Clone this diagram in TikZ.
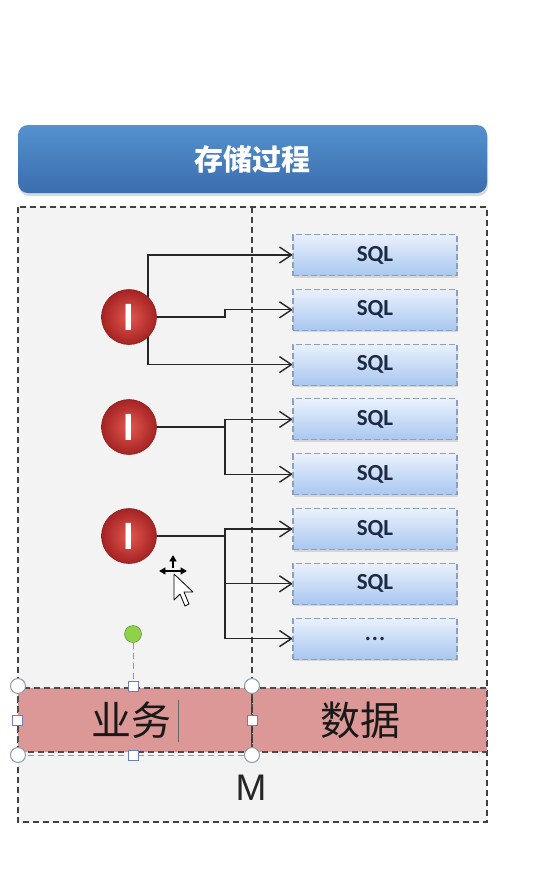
\documentclass[tikz,border=0pt]{standalone}
\usepackage{fontspec}
\newfontfamily\cjk{Noto Sans CJK SC}
\newfontfamily\sqlfont{Carlito}
\newfontfamily\mfont{Liberation Sans}
\usetikzlibrary{shadows,arrows.meta}
\pgfdeclarelayer{back}\pgfdeclarelayer{lines}\pgfsetlayers{back,lines,main}
\definecolor{titletop}{HTML}{5591CF}
\definecolor{titlebot}{HTML}{3A6DAD}
\definecolor{panel}{HTML}{F3F3F3}
\definecolor{pinkband}{HTML}{DB9896}
\definecolor{sqltop}{HTML}{EAF1FC}
\definecolor{sqlbot}{HTML}{A9C7F0}
\definecolor{sqlborder}{HTML}{8AA0BE}
\definecolor{redin}{HTML}{E2574E}
\definecolor{redout}{HTML}{A52323}
\definecolor{sqltext}{HTML}{1C2A45}
\definecolor{handle}{HTML}{8A9BB0}
\definecolor{greenh}{HTML}{8ED24A}
\tikzset{
  panelbox/.style={draw=black!75, fill=panel, line width=1.2pt, dash pattern=on 6pt off 4pt},
  titlebar/.style={rounded corners=10pt, top color=titletop, bottom color=titlebot, minimum width=469pt, minimum height=68pt, text=white, font=\cjk\bfseries\fontsize{29}{29}\selectfont, drop shadow={opacity=0.3, shadow xshift=1pt, shadow yshift=-3pt}},
  sqlbox/.style={draw=sqlborder, dash pattern=on 6pt off 3pt, line width=1.1pt, top color=sqltop, bottom color=sqlbot, minimum width=164pt, minimum height=41pt, inner sep=0pt, font=\sqlfont\bfseries\fontsize{23}{23}\selectfont, text=sqltext, drop shadow={opacity=0.25, shadow xshift=1pt, shadow yshift=-2pt}},
  redball/.style={circle, minimum size=55pt, inner sep=0pt, inner color=redin, outer color=redout, draw=redout!85!black, line width=0.6pt, text=white, font=\mfont\bfseries\fontsize{38}{38}\selectfont},
  band/.style={fill=pinkband, draw=black!70, line width=1.1pt, dash pattern=on 6pt off 4pt, minimum height=64pt, inner sep=0pt},
  bandtext/.style={font=\cjk\fontsize{40}{40}\selectfont, text=black!90},
  conn/.style={draw=black!85, line width=1.3pt},
  arr/.style={conn},
  vhead/.style={draw=black!85, line width=1.4pt, line join=miter},
  hcircle/.style={circle, draw=handle, fill=white, line width=1pt, minimum size=15pt, inner sep=0pt},
  hsquare/.style={draw=handle!80!blue, fill=white, line width=1pt, minimum size=10pt, inner sep=0pt},
}
\begin{document}
\begin{tikzpicture}[x=1pt,y=-1pt]
\useasboundingbox (0,0) rectangle (535,879);
% background layer
\begin{pgfonlayer}{back}
  \fill[white] (0,0) rectangle (535,879);
  \draw[panelbox] (18,207) rectangle (487,822);
  \node[band, minimum width=234pt] (biz) at (135,720) {};
  \node[band, minimum width=235pt] (data) at (369.5,720) {};
  \draw[black!75, line width=1.2pt, dash pattern=on 6pt off 4pt] (252,207) -- (252,752);
\end{pgfonlayer}
% title
\node[titlebar] (title) at (252.5,159) {存储过程};
% SQL boxes
\foreach \i in {1,...,7}{
  \node[sqlbox] (s\i) at (375, {255+54.8*(\i-1)}) {SQL};
}
\node[sqlbox] (s8) at (375, {255+54.8*7}) {.\kern1pt.\kern1pt.};
% red balls
\node[redball] (c1) at (129,317) {I};
\node[redball] (c2) at (129,427) {I};
\node[redball] (c3) at (129,536) {I};
\coordinate (b1) at (148,317);
\coordinate (j1) at (225,317);
\coordinate (j2) at (225,427);
\coordinate (j3) at (225,536);
\begin{pgfonlayer}{lines}
  \draw[arr] (b1) |- (s1.west);
  \draw[arr] (b1) |- (s3.west);
  \draw[arr] (c1.east) -- (j1) |- (s2.west);
  \draw[conn, line width=2.2pt] (c2.east) -- (j2);
  \draw[arr] (j2) |- (s4.west);
  \draw[arr] (j2) |- (s5.west);
  \draw[conn, line width=2.2pt] (c3.east) -- (j3);
  \draw[arr] (j3) |- (s6.west);
  \draw[arr] (j3) |- (s7.west);
  \draw[arr] (j3) |- (s8.west);
  \foreach \i in {1,...,8}{
    \draw[vhead] ([shift={(-13,-8)}]s\i.west) -- ([xshift=-1pt]s\i.west) -- ([shift={(-13,8)}]s\i.west);
  }
\end{pgfonlayer}
% band texts
\node[bandtext] (biztext) at (131,720) {业务};
\node[bandtext] (datatext) at (360,720) {数据};
\draw[black!60, line width=1pt] (178,700) -- (178,742);
\node[font=\mfont\fontsize{37}{37}\selectfont, text=black!85] (m) at (251,788) {M};
% selection frame and handles
\draw[handle, line width=1pt, dash pattern=on 6pt off 4pt] (18,755) -- (252,755);
\node[circle, draw=greenh!60!black, fill=greenh, minimum size=17pt, inner sep=0pt] (rot) at (133,634) {};
\node[hsquare] (hq1) at (133,686) {};
\draw[handle, line width=1pt, dash pattern=on 6pt off 4pt] (rot.south) -- (hq1.north);
\node[hsquare] (hq2) at (17,720) {};
\node[hsquare] (hq3) at (252,720) {};
\node[hsquare] (hq4) at (133,755) {};
\node[hcircle] (hc1) at (18,686) {};
\node[hcircle] (hc2) at (252,686) {};
\node[hcircle] (hc3) at (18,755) {};
\node[hcircle] (hc4) at (252,755) {};
% mouse cursor
\begin{scope}[line width=0.8pt]
  \draw[black, fill=black] (173,556) -- (170,561) -- (176,561) -- cycle;
  \draw[black, fill=black] (160,571) -- (165,568) -- (165,574) -- cycle;
  \draw[black, fill=black] (186,571) -- (181,568) -- (181,574) -- cycle;
  \draw[black, line width=1.2pt] (173,561) -- (173,568) (165,571) -- (181,571);
  \draw[black, fill=white, line join=round] (174,574) -- (174,600) -- (180,594) -- (185,606) -- (189,604) -- (184,592) -- (193,592) -- cycle;
\end{scope}
\end{tikzpicture}
\end{document}
